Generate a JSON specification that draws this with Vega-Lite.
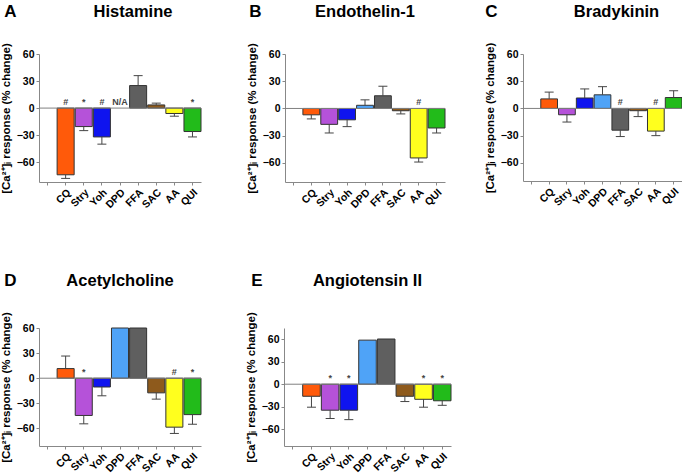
{
"$schema":"https://vega.github.io/schema/vega-lite/v6.json",
"padding":{"left":0,"top":2,"right":0,"bottom":0},
"datasets":{
"A":[{"d":"CQ","v":-74,"e":-78,"s":"#"},{"d":"Stry","v":-20.5,"e":-25,"s":"*"},{"d":"Yoh","v":-32,"e":-40,"s":"#"},{"d":"DPD","v":null,"e":null,"s":"N/A"},{"d":"FFA","v":25,"e":36,"s":null},{"d":"SAC","v":3.5,"e":5.5,"s":null},{"d":"AA","v":-6,"e":-9,"s":null},{"d":"QUI","v":-26,"e":-32,"s":"*"}],
"B":[{"d":"CQ","v":-7,"e":-11.5,"s":null},{"d":"Stry","v":-17.5,"e":-27,"s":null},{"d":"Yoh","v":-12.5,"e":-20,"s":null},{"d":"DPD","v":3.5,"e":9.5,"s":null},{"d":"FFA","v":14,"e":24.5,"s":null},{"d":"SAC","v":-2.5,"e":-6,"s":null},{"d":"AA","v":-54.5,"e":-59,"s":"#"},{"d":"QUI","v":-21.5,"e":-27,"s":null}],
"C":[{"d":"CQ","v":10.5,"e":18,"s":null},{"d":"Stry","v":-7,"e":-15,"s":null},{"d":"Yoh","v":11.5,"e":21.5,"s":null},{"d":"DPD","v":15,"e":24,"s":null},{"d":"FFA","v":-24,"e":-31,"s":"#"},{"d":"SAC","v":-2.5,"e":-9,"s":null},{"d":"AA","v":-25,"e":-30,"s":"#"},{"d":"QUI","v":12,"e":19.5,"s":null}],
"D":[{"d":"CQ","v":11.5,"e":26.5,"s":null},{"d":"Stry","v":-44.5,"e":-54.5,"s":"*"},{"d":"Yoh","v":-10.5,"e":-21,"s":null},{"d":"DPD","v":60,"e":null,"s":null},{"d":"FFA","v":60,"e":null,"s":null},{"d":"SAC","v":-17.5,"e":-25,"s":null},{"d":"AA","v":-58.5,"e":-66,"s":"#"},{"d":"QUI","v":-43.5,"e":-55,"s":"*"}],
"E":[{"d":"CQ","v":-16,"e":-30.5,"s":null},{"d":"Stry","v":-34.5,"e":-45.5,"s":"*"},{"d":"Yoh","v":-34.5,"e":-47,"s":"*"},{"d":"DPD","v":58.5,"e":null,"s":null},{"d":"FFA","v":60,"e":null,"s":null},{"d":"SAC","v":-16,"e":-23,"s":null},{"d":"AA","v":-20,"e":-30.5,"s":"*"},{"d":"QUI","v":-22,"e":-28,"s":"*"}]
},
"vconcat":[
{"spacing":44,"hconcat":[
 {"title":{"text":"A","anchor":"start","fontSize":17,"offset":-17,"dx":4},
  "vconcat":[{"title":{"text":"Histamine","frame":"group","dx":13,"offset":22},"width":162,"height":128,"data":{"name":"A"},
  "layer":[
   {"transform":[{"filter":"datum.v != null"}],"mark":{"type":"bar","stroke":"#333","strokeWidth":1},"encoding":{
     "x":{"field":"d","type":"nominal","sort":null,"scale":{"domain":[" ","CQ","Stry","Yoh","DPD","FFA","SAC","AA","QUI"],"paddingInner":0.06,"paddingOuter":0},"axis":{"title":null,"labelAngle":-45,"tickSize":3,"labelPadding":2}},
     "y":{"field":"v","type":"quantitative","scale":{"domain":[-82,60],"nice":false},"axis":{"values":[-60,-30,0,30,60],"tickCount":5,"title":"[Ca²⁺]ᵢ response (% change)","tickSize":3,"titlePadding":5,"labelOverlap":false}},
     "color":{"field":"d","type":"nominal","scale":{"domain":["CQ","Stry","Yoh","DPD","FFA","SAC","AA","QUI"],"range":["#FF5A0A","#B552D9","#0F14EF","#4FA3F7","#5F5F5F","#8E5A1C","#FFFF1E","#22BB1A"]},"legend":null}}},
   {"data":{"values":[{}]},"mark":{"type":"rule","color":"#808080"},"encoding":{"y":{"datum":0,"type":"quantitative"}}},
   {"transform":[{"filter":"datum.e != null"}],"mark":{"type":"rule","color":"#444"},"encoding":{
     "x":{"field":"d","type":"nominal"},
     "y":{"field":"v","type":"quantitative"},"y2":{"field":"e"}}},
   {"transform":[{"filter":"datum.e != null"}],"mark":{"type":"tick","orient":"horizontal","size":9,"thickness":1,"color":"#444","opacity":1},"encoding":{
     "x":{"field":"d","type":"nominal"},
     "y":{"field":"e","type":"quantitative"}}},
   {"transform":[{"filter":"datum.s != null"}],"mark":{"type":"text","baseline":"bottom","dy":-1,"fontSize":9,"fontWeight":"bold","color":"#444"},"encoding":{
     "x":{"field":"d","type":"nominal"},
     "y":{"datum":0,"type":"quantitative"},"text":{"field":"s"}}}
  ]}]},
 {"spacing":38,"hconcat":[
 {"title":{"text":"B","anchor":"start","fontSize":17,"offset":-17,"dx":3},
  "vconcat":[{"title":{"text":"Endothelin-1","frame":"group","offset":22},"width":160,"height":128,"data":{"name":"B"},
  "layer":[
   {"transform":[{"filter":"datum.v != null"}],"mark":{"type":"bar","stroke":"#333","strokeWidth":1},"encoding":{
     "x":{"field":"d","type":"nominal","sort":null,"scale":{"domain":[" ","CQ","Stry","Yoh","DPD","FFA","SAC","AA","QUI"],"paddingInner":0.06,"paddingOuter":0},"axis":{"title":null,"labelAngle":-45,"tickSize":3,"labelPadding":2}},
     "y":{"field":"v","type":"quantitative","scale":{"domain":[-81,60],"nice":false},"axis":{"values":[-60,-30,0,30,60],"tickCount":5,"title":"[Ca²⁺]ᵢ response (% change)","tickSize":3,"titlePadding":5,"labelOverlap":false}},
     "color":{"field":"d","type":"nominal","scale":{"domain":["CQ","Stry","Yoh","DPD","FFA","SAC","AA","QUI"],"range":["#FF5A0A","#B552D9","#0F14EF","#4FA3F7","#5F5F5F","#8E5A1C","#FFFF1E","#22BB1A"]},"legend":null}}},
   {"data":{"values":[{}]},"mark":{"type":"rule","color":"#808080"},"encoding":{"y":{"datum":0,"type":"quantitative"}}},
   {"transform":[{"filter":"datum.e != null"}],"mark":{"type":"rule","color":"#444"},"encoding":{
     "x":{"field":"d","type":"nominal"},
     "y":{"field":"v","type":"quantitative"},"y2":{"field":"e"}}},
   {"transform":[{"filter":"datum.e != null"}],"mark":{"type":"tick","orient":"horizontal","size":9,"thickness":1,"color":"#444","opacity":1},"encoding":{
     "x":{"field":"d","type":"nominal"},
     "y":{"field":"e","type":"quantitative"}}},
   {"transform":[{"filter":"datum.s != null"}],"mark":{"type":"text","baseline":"bottom","dy":-1,"fontSize":9,"fontWeight":"bold","color":"#444"},"encoding":{
     "x":{"field":"d","type":"nominal"},
     "y":{"datum":0,"type":"quantitative"},"text":{"field":"s"}}}
  ]}]},
 {"title":{"text":"C","anchor":"start","fontSize":17,"offset":-17,"dx":1},
  "vconcat":[{"title":{"text":"Bradykinin","frame":"group","dx":14,"offset":22},"width":159,"height":127,"data":{"name":"C"},
  "layer":[
   {"transform":[{"filter":"datum.v != null"}],"mark":{"type":"bar","stroke":"#333","strokeWidth":1},"encoding":{
     "x":{"field":"d","type":"nominal","sort":null,"scale":{"domain":[" ","CQ","Stry","Yoh","DPD","FFA","SAC","AA","QUI"],"paddingInner":0.06,"paddingOuter":0},"axis":{"title":null,"labelAngle":-45,"tickSize":3,"labelPadding":2}},
     "y":{"field":"v","type":"quantitative","scale":{"domain":[-80,60],"nice":false},"axis":{"values":[-60,-30,0,30,60],"tickCount":5,"title":"[Ca²⁺]ᵢ response (% change)","tickSize":3,"titlePadding":5,"labelOverlap":false}},
     "color":{"field":"d","type":"nominal","scale":{"domain":["CQ","Stry","Yoh","DPD","FFA","SAC","AA","QUI"],"range":["#FF5A0A","#B552D9","#0F14EF","#4FA3F7","#5F5F5F","#8E5A1C","#FFFF1E","#22BB1A"]},"legend":null}}},
   {"data":{"values":[{}]},"mark":{"type":"rule","color":"#808080"},"encoding":{"y":{"datum":0,"type":"quantitative"}}},
   {"transform":[{"filter":"datum.e != null"}],"mark":{"type":"rule","color":"#444"},"encoding":{
     "x":{"field":"d","type":"nominal"},
     "y":{"field":"v","type":"quantitative"},"y2":{"field":"e"}}},
   {"transform":[{"filter":"datum.e != null"}],"mark":{"type":"tick","orient":"horizontal","size":9,"thickness":1,"color":"#444","opacity":1},"encoding":{
     "x":{"field":"d","type":"nominal"},
     "y":{"field":"e","type":"quantitative"}}},
   {"transform":[{"filter":"datum.s != null"}],"mark":{"type":"text","baseline":"bottom","dy":-1,"fontSize":9,"fontWeight":"bold","color":"#444"},"encoding":{
     "x":{"field":"d","type":"nominal"},
     "y":{"datum":0,"type":"quantitative"},"text":{"field":"s"}}}
  ]}]}
 ]}
]},
{"spacing":43,"hconcat":[
 {"title":{"text":"D","anchor":"start","fontSize":17,"offset":-17,"dx":4},
  "vconcat":[{"title":{"text":"Acetylcholine","frame":"group","offset":22},"width":162,"height":118,"data":{"name":"D"},
  "layer":[
   {"transform":[{"filter":"datum.v != null"}],"mark":{"type":"bar","stroke":"#333","strokeWidth":1},"encoding":{
     "x":{"field":"d","type":"nominal","sort":null,"scale":{"domain":[" ","CQ","Stry","Yoh","DPD","FFA","SAC","AA","QUI"],"paddingInner":0.06,"paddingOuter":0},"axis":{"title":null,"labelAngle":-45,"tickSize":3,"labelPadding":2}},
     "y":{"field":"v","type":"quantitative","scale":{"domain":[-81,60],"nice":false},"axis":{"values":[-60,-30,0,30,60],"tickCount":5,"title":"[Ca²⁺]ᵢ response (% change)","tickSize":3,"titlePadding":5,"labelOverlap":false}},
     "color":{"field":"d","type":"nominal","scale":{"domain":["CQ","Stry","Yoh","DPD","FFA","SAC","AA","QUI"],"range":["#FF5A0A","#B552D9","#0F14EF","#4FA3F7","#5F5F5F","#8E5A1C","#FFFF1E","#22BB1A"]},"legend":null}}},
   {"data":{"values":[{}]},"mark":{"type":"rule","color":"#808080"},"encoding":{"y":{"datum":0,"type":"quantitative"}}},
   {"transform":[{"filter":"datum.e != null"}],"mark":{"type":"rule","color":"#444"},"encoding":{
     "x":{"field":"d","type":"nominal"},
     "y":{"field":"v","type":"quantitative"},"y2":{"field":"e"}}},
   {"transform":[{"filter":"datum.e != null"}],"mark":{"type":"tick","orient":"horizontal","size":9,"thickness":1,"color":"#444","opacity":1},"encoding":{
     "x":{"field":"d","type":"nominal"},
     "y":{"field":"e","type":"quantitative"}}},
   {"transform":[{"filter":"datum.s != null"}],"mark":{"type":"text","baseline":"bottom","dy":-1,"fontSize":9,"fontWeight":"bold","color":"#444"},"encoding":{
     "x":{"field":"d","type":"nominal"},
     "y":{"datum":0,"type":"quantitative"},"text":{"field":"s"}}}
  ]}]},
 {"title":{"text":"E","anchor":"start","fontSize":17,"offset":-17,"dx":6},
  "vconcat":[{"title":{"text":"Angiotensin II","frame":"group","offset":22},"width":167,"height":118,"data":{"name":"E"},
  "layer":[
   {"transform":[{"filter":"datum.v != null"}],"mark":{"type":"bar","stroke":"#333","strokeWidth":1},"encoding":{
     "x":{"field":"d","type":"nominal","sort":null,"scale":{"domain":[" ","CQ","Stry","Yoh","DPD","FFA","SAC","AA","QUI"],"paddingInner":0.06,"paddingOuter":0},"axis":{"title":null,"labelAngle":-45,"tickSize":3,"labelPadding":2}},
     "y":{"field":"v","type":"quantitative","scale":{"domain":[-82,74.6],"nice":false},"axis":{"values":[-60,-30,0,30,60],"tickCount":5,"title":"[Ca²⁺]ᵢ response (% change)","tickSize":3,"titlePadding":5,"labelOverlap":false}},
     "color":{"field":"d","type":"nominal","scale":{"domain":["CQ","Stry","Yoh","DPD","FFA","SAC","AA","QUI"],"range":["#FF5A0A","#B552D9","#0F14EF","#4FA3F7","#5F5F5F","#8E5A1C","#FFFF1E","#22BB1A"]},"legend":null}}},
   {"data":{"values":[{}]},"mark":{"type":"rule","color":"#808080"},"encoding":{"y":{"datum":0,"type":"quantitative"}}},
   {"transform":[{"filter":"datum.e != null"}],"mark":{"type":"rule","color":"#444"},"encoding":{
     "x":{"field":"d","type":"nominal"},
     "y":{"field":"v","type":"quantitative"},"y2":{"field":"e"}}},
   {"transform":[{"filter":"datum.e != null"}],"mark":{"type":"tick","orient":"horizontal","size":9,"thickness":1,"color":"#444","opacity":1},"encoding":{
     "x":{"field":"d","type":"nominal"},
     "y":{"field":"e","type":"quantitative"}}},
   {"transform":[{"filter":"datum.s != null"}],"mark":{"type":"text","baseline":"bottom","dy":-1,"fontSize":9,"fontWeight":"bold","color":"#444"},"encoding":{
     "x":{"field":"d","type":"nominal"},
     "y":{"datum":0,"type":"quantitative"},"text":{"field":"s"}}}
  ]}]}
]}
],
"spacing":61,
"config":{"view":{"stroke":null},"font":"Liberation Sans",
 "axis":{"labelFont":"Liberation Sans","labelFontWeight":"bold","labelColor":"#000","labelFontSize":10.5,"labelOverlap":false,"domainColor":"#888","tickColor":"#888","titleFont":"Liberation Sans","titleFontWeight":"bold","titleColor":"#000","titleFontSize":11.5,"grid":false},
 "title":{"font":"Liberation Sans","fontWeight":"bold","fontSize":16.5,"color":"#000"}}
}
